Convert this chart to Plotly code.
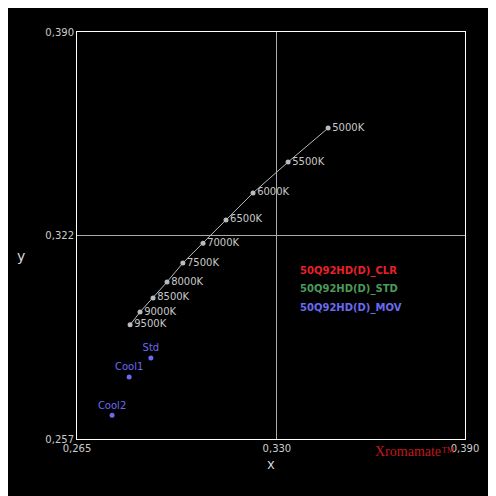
import plotly.graph_objects as go

cct_labels = ["5000K","5500K","6000K","6500K","7000K","7500K","8000K","8500K","9000K","9500K"]
cct_x = [0.3459,0.3330,0.3217,0.3130,0.3056,0.2991,0.2940,0.2895,0.2853,0.2821]
cct_y = [0.3586,0.3475,0.3374,0.3286,0.3210,0.3145,0.3083,0.3031,0.2985,0.2943]

mov_labels = ["Std","Cool1","Cool2"]
mov_x = [0.2888,0.2818,0.2763]
mov_y = [0.2835,0.2773,0.2648]

x_ticks = [0.265,0.3294,0.390]
x_ticktext = ["0,265","0,330","0,390"]
y_ticks = [0.257,0.3235,0.390]
y_ticktext = ["0,257","0,322","0,390"]

legend_names = ["50Q92HD(D)_CLR","50Q92HD(D)_STD","50Q92HD(D)_MOV"]
legend_colors = ["#e8202a","#4a9a5a","#6a6af0"]

fig = go.Figure()
fig.add_trace(go.Scatter(x=cct_x, y=cct_y, mode="lines+markers+text", text=cct_labels,
    textposition="middle right", textfont=dict(color="#c8c8c8", size=10, family="DejaVu Sans"),
    line=dict(color="#bbbbbb", width=1), marker=dict(color="#bbbbbb", size=5), hoverinfo="skip"))
fig.add_trace(go.Scatter(x=mov_x, y=mov_y, mode="markers+text", text=mov_labels,
    textposition="top center", textfont=dict(color="#6a6af0", size=10, family="DejaVu Sans"),
    marker=dict(color="#6a6af0", size=5), hoverinfo="skip"))

for i,(n,c) in enumerate(zip(legend_names, legend_colors)):
    fig.add_annotation(x=0.57, y=0.413-i*0.045, xref="paper", yref="paper", text="<b>"+n+"</b>",
        showarrow=False, xanchor="left", yanchor="middle", font=dict(color=c, size=10, family="DejaVu Sans"))
fig.add_annotation(x=0.98, y=-0.03, xref="paper", yref="paper", text="Xromamate™",
    showarrow=False, xanchor="right", font=dict(color="#c01818", size=14, family="Liberation Serif"), yanchor="middle")
fig.add_annotation(x=-0.16, y=0.45, xref="paper", yref="paper", text="y",
    showarrow=False, font=dict(color="#dddddd", size=14, family="DejaVu Sans"))

ax = dict(showline=True, mirror=True, linecolor="white", linewidth=1, showgrid=True,
          gridcolor="#aaaaaa", gridwidth=1, zeroline=False, ticks="",
          tickfont=dict(color="#cccccc", size=10, family="DejaVu Sans"))
fig.update_xaxes(**ax, range=[0.265,0.390], tickvals=x_ticks, ticktext=x_ticktext,
    title=dict(text="x", font=dict(color="#dddddd", size=14), standoff=4))
fig.update_yaxes(**ax, range=[0.257,0.390], tickvals=y_ticks, ticktext=y_ticktext)
fig.update_layout(width=488, height=488, paper_bgcolor="black", plot_bgcolor="black",
    showlegend=False, margin=dict(l=69, r=31, t=24, b=57, autoexpand=False))
fig.write_html("out.html")
